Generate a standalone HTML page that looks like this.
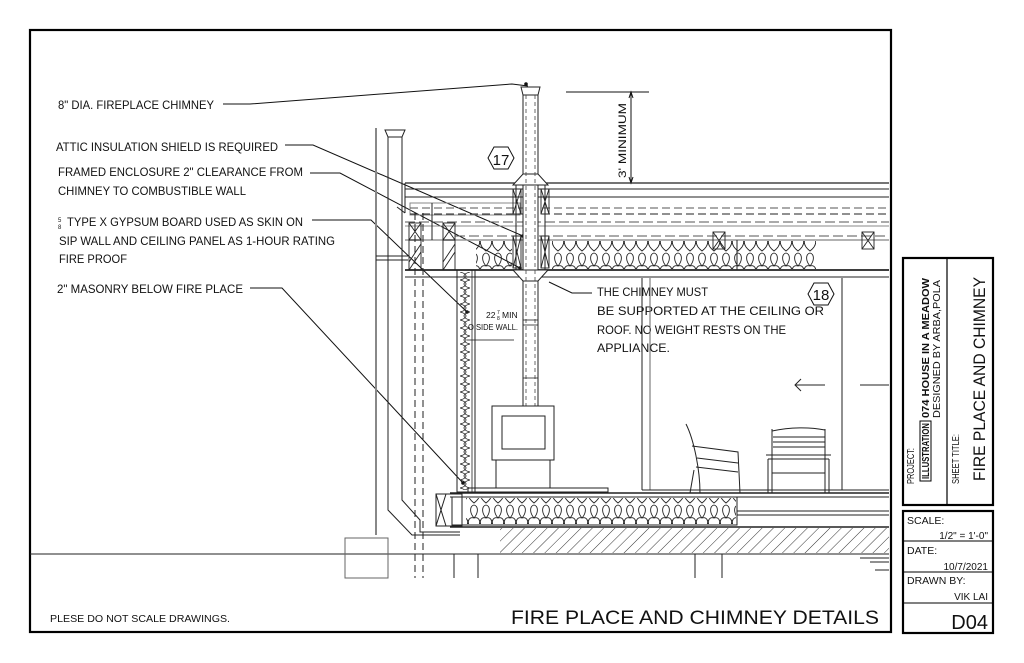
<!DOCTYPE html>
<html><head><meta charset="utf-8"><style>
html,body{margin:0;padding:0;background:#fff;}
svg{display:block;}
text{font-family:"Liberation Sans",sans-serif;fill:#111;}
</style></head><body>
<svg width="1024" height="663" viewBox="0 0 1024 663" xmlns="http://www.w3.org/2000/svg">
<defs>
<pattern id="ins" x="0" y="0" width="12" height="28" patternUnits="userSpaceOnUse">
<path d="M6,27 C-3,20 0,12 6,14 C12,12 15,20 6,27 Z M6,14 C1,8 2,2 6,1 C10,2 11,8 6,14" fill="none" stroke="#222" stroke-width="0.9"/>
</pattern>
<pattern id="insv" x="0" y="0" width="10" height="8" patternUnits="userSpaceOnUse">
<path d="M0,0 C8,2 8,6 0,8 M10,0 C2,2 2,6 10,8" fill="none" stroke="#222" stroke-width="0.8"/>
</pattern>
<pattern id="hatch" width="8" height="8" patternUnits="userSpaceOnUse" patternTransform="rotate(45)">
<line x1="0" y1="0" x2="0" y2="8" stroke="#333" stroke-width="1"/>
</pattern>
</defs>
<rect width="1024" height="663" fill="#fff"/>
<rect x="30" y="30" width="861" height="602" fill="none" stroke="#000" stroke-width="2.2"/>
<rect x="903" y="258" width="90" height="247" fill="none" stroke="#000" stroke-width="2.2"/>
<line x1="947" y1="258" x2="947" y2="505" stroke="#000" stroke-width="1.2"/>
<rect x="920" y="421" width="11" height="60" fill="none" stroke="#000" stroke-width="1"/>
<text transform="translate(914,484) rotate(-90)" font-size="10.5" textLength="36" lengthAdjust="spacingAndGlyphs">PROJECT:</text>
<text transform="translate(929,479) rotate(-90)" font-size="10" font-weight="bold" textLength="56" lengthAdjust="spacingAndGlyphs">ILLUSTRATION</text>
<text transform="translate(929,418) rotate(-90)" font-size="10" font-weight="bold" textLength="140" lengthAdjust="spacingAndGlyphs">074 HOUSE IN A MEADOW</text>
<text transform="translate(940,418) rotate(-90)" font-size="10" textLength="138" lengthAdjust="spacingAndGlyphs">DESIGNED BY ARBA,POLA</text>
<text transform="translate(959,484) rotate(-90)" font-size="10.5" textLength="50" lengthAdjust="spacingAndGlyphs">SHEET TITLE:</text>
<text transform="translate(985,481) rotate(-90)" font-size="17" textLength="204" lengthAdjust="spacingAndGlyphs">FIRE PLACE AND CHIMNEY</text>
<rect x="903" y="511" width="90" height="122" fill="none" stroke="#000" stroke-width="2.2"/>
<line x1="903" y1="541" x2="993" y2="541" stroke="#000" stroke-width="1"/>
<line x1="903" y1="572" x2="993" y2="572" stroke="#000" stroke-width="1"/>
<line x1="903" y1="603" x2="993" y2="603" stroke="#000" stroke-width="1"/>
<text x="907" y="524" font-size="10.5">SCALE:</text>
<text x="988" y="539" font-size="10" text-anchor="end">1/2" = 1'-0"</text>
<text x="907" y="554" font-size="10.5">DATE:</text>
<text x="988" y="570" font-size="10" text-anchor="end">10/7/2021</text>
<text x="907" y="584" font-size="10.5">DRAWN BY:</text>
<text x="988" y="600" font-size="10" text-anchor="end">VIK LAI</text>
<text x="988" y="629" font-size="20" text-anchor="end">D04</text>

<text x="50" y="622" font-size="10" textLength="180" lengthAdjust="spacingAndGlyphs">PLESE DO NOT SCALE DRAWINGS.</text>
<text x="511" y="624" font-size="19" textLength="368" lengthAdjust="spacingAndGlyphs">FIRE PLACE AND CHIMNEY DETAILS</text>

<g font-size="12">
<text x="58" y="109" textLength="156" lengthAdjust="spacingAndGlyphs">8" DIA. FIREPLACE CHIMNEY</text>
<text x="56" y="151" textLength="222" lengthAdjust="spacingAndGlyphs">ATTIC INSULATION SHIELD IS REQUIRED</text>
<text x="58" y="176" textLength="245" lengthAdjust="spacingAndGlyphs">FRAMED ENCLOSURE  2" CLEARANCE FROM</text>
<text x="58" y="195" textLength="188" lengthAdjust="spacingAndGlyphs">CHIMNEY TO COMBUSTIBLE WALL</text>
<text x="58" y="222" font-size="6">5</text><text x="58" y="229" font-size="6">8</text>
<text x="67" y="226" textLength="236" lengthAdjust="spacingAndGlyphs">TYPE X GYPSUM BOARD USED AS SKIN ON</text>
<text x="59" y="245" textLength="276" lengthAdjust="spacingAndGlyphs">SIP WALL AND CEILING PANEL AS 1-HOUR RATING</text>
<text x="59" y="263" textLength="68" lengthAdjust="spacingAndGlyphs">FIRE PROOF</text>
<text x="57" y="293" textLength="186" lengthAdjust="spacingAndGlyphs">2" MASONRY  BELOW FIRE PLACE</text>
<text x="597" y="296" textLength="111" lengthAdjust="spacingAndGlyphs">THE CHIMNEY MUST</text>
<text x="597" y="315" textLength="227" lengthAdjust="spacingAndGlyphs">BE SUPPORTED AT THE CEILING OR</text>
<text x="597" y="334" textLength="189" lengthAdjust="spacingAndGlyphs">ROOF. NO WEIGHT RESTS ON THE</text>
<text x="597" y="352" textLength="73" lengthAdjust="spacingAndGlyphs">APPLIANCE.</text>
</g>
<text x="486" y="318" font-size="8.5">22</text><text x="497" y="314" font-size="5">7</text><text x="497" y="320" font-size="5">8</text>
<text x="502" y="318" font-size="8.5">MIN</text>
<text x="468" y="330" font-size="8.5" textLength="50" lengthAdjust="spacingAndGlyphs">O SIDE WALL.</text>
<line x1="467" y1="340" x2="514" y2="340" stroke="#111" stroke-width="0.8"/>

<g stroke="#111" stroke-width="1" fill="none">
<polyline points="223,104 250,104 512,84 528,86"/>
<polyline points="285,145 313,145 523,236"/>
<polyline points="310,173 340,173 520,268"/>
<polyline points="312,220 371,220 467,312"/>
<polyline points="250,288 282,288 463,483"/>
<polyline points="549,282 572,293 592,293"/>
</g>
<g fill="#111"><circle cx="526" cy="84" r="1.8"/><circle cx="523" cy="236" r="1.8"/><circle cx="520" cy="268" r="1.8"/><circle cx="467" cy="312" r="1.8"/><circle cx="463" cy="483" r="1.8"/></g>

<g stroke="#111" stroke-width="1" fill="none">
<line x1="566" y1="92" x2="649" y2="92"/>
<line x1="631" y1="92" x2="631" y2="183"/>
<polyline points="629,98 631,92 633,98"/>
<polyline points="629,177 631,183 633,177"/>
</g>
<text transform="translate(626,178) rotate(-90)" font-size="11" textLength="75" lengthAdjust="spacingAndGlyphs">3' MINIMUM</text>

<g stroke="#111" stroke-width="1" fill="#fff">
<polygon points="488,158 494,147 508,147 514,158 508,169 494,169"/>
<polygon points="808,294 814,283 828,283 834,294 828,305 814,305"/>
</g>
<text x="501" y="165" font-size="15" text-anchor="middle">17</text>
<text x="821" y="300" font-size="15" text-anchor="middle">18</text>

<g stroke="#222" stroke-width="1" fill="none">
<line x1="405" y1="183" x2="889" y2="183" stroke-width="1.3"/>
<line x1="405" y1="189" x2="889" y2="189"/>
<line x1="405" y1="197" x2="889" y2="197"/>
<line x1="405" y1="183" x2="405" y2="213"/>
<rect x="410" y="203" width="110" height="12" stroke="#888"/>
<line x1="410" y1="208" x2="889" y2="208" stroke-dasharray="8,4" stroke="#555"/>
<line x1="410" y1="214" x2="889" y2="214" stroke-dasharray="8,4"/>
<line x1="405" y1="222" x2="889" y2="222" stroke-dasharray="10,4" stroke="#555"/>
<line x1="405" y1="226" x2="889" y2="226" stroke="#888"/>
<line x1="455" y1="236" x2="889" y2="236" stroke-dasharray="10,4" stroke="#555"/>
<line x1="405" y1="240" x2="889" y2="240" stroke="#999" stroke-width="1.5"/>
<line x1="405" y1="270" x2="889" y2="270" stroke-width="1.8"/>
<line x1="405" y1="277" x2="889" y2="277"/>
<line x1="397" y1="207" x2="405" y2="213"/>
</g>
<g stroke="#222" stroke-width="0.9" fill="none">
<rect x="409" y="223" width="12" height="17"/><path d="M409,223 L421,240 M421,223 L409,240"/>
<rect x="443" y="223" width="12" height="17"/><path d="M443,223 L455,240 M455,223 L443,240"/>
<rect x="713" y="232" width="12" height="17"/><path d="M713,232 L725,249 M725,232 L713,249"/>
<rect x="862" y="232" width="12" height="17"/><path d="M862,232 L874,249 M874,232 L862,249"/>
<rect x="513" y="189" width="8" height="25"/><path d="M513,189 L521,214 M521,189 L513,214"/>
<rect x="541" y="189" width="8" height="25"/><path d="M541,189 L549,214 M549,189 L541,214"/>
<rect x="513" y="236" width="8" height="32"/><path d="M513,236 L521,268 M521,236 L513,268"/>
<rect x="541" y="236" width="8" height="32"/><path d="M541,236 L549,268 M549,236 L541,268"/>
<rect x="409" y="240" width="12" height="30"/><path d="M409,262 L421,244 M409,270 L421,252"/>
<rect x="443" y="240" width="12" height="30"/><path d="M443,262 L455,244 M443,270 L455,252"/>
</g>
<rect x="476" y="241" width="36" height="28" fill="url(#ins)"/>
<rect x="552" y="241" width="264" height="28" fill="url(#ins)"/>
<line x1="737" y1="240" x2="737" y2="270" stroke="#222" stroke-width="1"/>

<g stroke="#222" stroke-width="1" fill="#fff">
<polygon points="521,87 540,87 538,95 523,95"/>
<rect x="523" y="95" width="15" height="311"/>
<polygon points="523,174 538,174 548,185 513,185"/>
<polygon points="513,270 548,270 538,281 523,281"/>
</g>
<g stroke="#444" stroke-width="0.8" stroke-dasharray="4,3">
<line x1="526" y1="95" x2="526" y2="406"/><line x1="535" y1="95" x2="535" y2="406"/>
</g>
<line x1="516" y1="185" x2="516" y2="270" stroke="#222"/>
<line x1="545" y1="185" x2="545" y2="270" stroke="#222"/>
<g stroke="#222" stroke-width="0.8"><line x1="523" y1="320" x2="538" y2="320"/><line x1="523" y1="325" x2="538" y2="325"/><line x1="523" y1="378" x2="538" y2="378"/></g>

<g stroke="#222" stroke-width="1" fill="#fff">
<rect x="492" y="406" width="62" height="54"/>
<rect x="502" y="416" width="43" height="33"/>
<line x1="496" y1="460" x2="496" y2="490"/><line x1="550" y1="460" x2="550" y2="490"/>
<rect x="468" y="488" width="140" height="4"/>
</g>

<rect x="457" y="270" width="18" height="222" fill="none" stroke="#222" stroke-width="1"/>
<rect x="460" y="272" width="10" height="218" fill="url(#insv)"/>
<line x1="472" y1="270" x2="472" y2="492" stroke="#222" stroke-width="0.8"/>

<g stroke="#222" stroke-width="1" fill="none">
<line x1="376" y1="128" x2="376" y2="535" stroke="#888" stroke-width="2"/>
<polygon points="385,130 405,130 402,137 388,137" fill="#fff"/>
<line x1="388" y1="137" x2="388" y2="505"/>
<line x1="402" y1="137" x2="402" y2="482"/>
<polyline points="388,505 388,510 412,535 460,535"/>
<polyline points="402,482 402,500 420,520 420,532 460,532"/>
<line x1="376" y1="256" x2="408" y2="256"/><line x1="376" y1="260" x2="408" y2="260"/>
<line x1="415" y1="213" x2="415" y2="578" stroke-dasharray="7,4"/>
<line x1="423" y1="213" x2="423" y2="578" stroke-dasharray="7,4"/>
<line x1="432" y1="203" x2="432" y2="240"/>
</g>

<g stroke="#222" stroke-width="1" fill="none">
<line x1="450" y1="493" x2="889" y2="493" stroke-width="1.5"/>
<line x1="450" y1="497" x2="889" y2="497"/>
<rect x="452" y="497" width="285" height="28"/>
<line x1="737" y1="511" x2="889" y2="511"/>
<line x1="737" y1="515" x2="889" y2="515"/>
<line x1="450" y1="527" x2="889" y2="527" stroke-width="1.5"/>
<rect x="436" y="494" width="26" height="32"/>
<path d="M436,494 L446,526 M446,494 L436,526"/>
</g>
<rect x="466" y="498" width="270" height="26" fill="url(#ins)"/>
<rect x="500" y="528" width="389" height="25" fill="url(#hatch)"/>
<line x1="30" y1="554" x2="889" y2="554" stroke="#222" stroke-width="1"/>
<g stroke="#222" stroke-width="1" fill="none">
<rect x="345" y="538" width="43" height="40" stroke="#666"/>
<polyline points="454,554 454,578"/><polyline points="478,554 478,578"/>
<polyline points="695,554 695,578"/><polyline points="722,554 722,578"/>
<line x1="860" y1="558" x2="889" y2="558"/><line x1="870" y1="562" x2="889" y2="562"/><line x1="875" y1="570" x2="889" y2="570"/>
</g>

<g stroke="#222" stroke-width="1" fill="none">
<line x1="642" y1="278" x2="642" y2="490"/>
<line x1="650" y1="278" x2="650" y2="490" stroke="#666"/>
<line x1="842" y1="278" x2="842" y2="490"/>
<line x1="642" y1="490" x2="889" y2="490"/>
<line x1="795" y1="385" x2="825" y2="385"/><polyline points="801,379 795,385 801,391"/>
<line x1="860" y1="385" x2="889" y2="385"/>
<path d="M686,424 C694,440 700,470 700,493"/>
<path d="M692,446 L738,452 L740,493"/>
<path d="M697,458 L738,463 M696,467 L738,472"/>
<path d="M694,470 L690,493"/>
<path d="M772,429 L772,493 M825,429 L825,493"/>
<path d="M772,431 C790,427 810,427 825,430 M773,437 L825,437 M773,442 L825,442 M773,447 L825,447"/>
<path d="M766,455 L831,455 M768,459 L829,459 M768,459 L768,493 M829,459 L829,493 M772,473 L825,473"/>
</g>
</svg>
</body></html>
